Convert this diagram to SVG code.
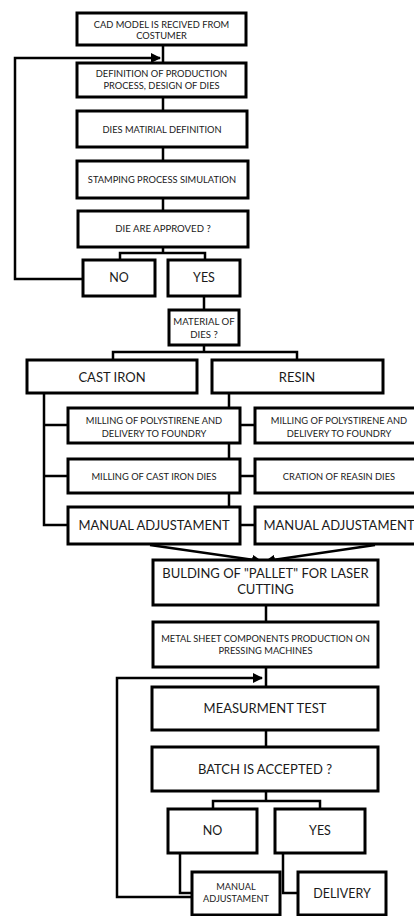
<svg xmlns="http://www.w3.org/2000/svg" width="414" height="916" viewBox="0 0 414 916">
<defs>
<style>
.b{fill:#fff;stroke:#000;stroke-width:3}
.c{fill:none;stroke:#000;stroke-width:2.5}
text{font-family:Lato,"Open Sans",sans-serif;fill:#1a1a1a;text-anchor:middle}
.s{font-size:9.3px}
.t{font-size:9.6px}
.m{font-size:12.5px}
.l{font-size:13px}
</style>
<marker id="ah" viewBox="0 0 10 10" refX="9" refY="5" markerWidth="4" markerHeight="4" orient="auto"><path d="M0,0 L10,5 L0,10 z" fill="#000"/></marker>
</defs>
<rect width="414" height="916" fill="#fff"/>
<g id="connectors">
<path class="c" d="M163,45 V63 M163,97 V111 M163,147 V161 M163,198 V211 M163,247 V253 M120,260 V253 H205 V260"/>
<path class="c" d="M83,279 H15 V58 H160" marker-end="url(#ah)"/>
<path class="c" d="M204,296 V310 M204,345 V352 M113,360 V352 H297 V360"/>
<path class="c" d="M44,393 V525 H68 M44,425 H68 M44,476 H68 M229,393 V408 M229,443 V459 M229,493 V507 M240,425 H255 M240,476 H255 M240,525 H255"/>
<path class="c" d="M150,545 L261,561" marker-end="url(#ah)"/>
<path class="c" d="M375,545 L266,561" marker-end="url(#ah)"/>
<path class="c" d="M266,605 V622 M266,667 V687 M266,730 V747 M266,791 V801 M213,809 V801 H320 V809"/>
<path class="c" d="M192,897 H117 V678 H262" marker-end="url(#ah)"/>
<path class="c" d="M180,853 V893 H192 M283,853 V893 H298"/>
</g>
<g id="n1"><rect class="b" x="77" y="13" width="169" height="32"/><text class="s" x="161.5" y="27.5">CAD MODEL IS RECIVED FROM</text><text class="s" x="161.5" y="39">COSTUMER</text></g>
<g id="n2"><rect class="b" x="77" y="63" width="169" height="34"/><text class="s" x="161.5" y="77">DEFINITION OF PRODUCTION</text><text class="s" x="161.5" y="89">PROCESS, DESIGN OF DIES</text></g>
<g id="n3"><rect class="b" x="77" y="111" width="170" height="36"/><text class="s" x="162" y="132.5">DIES MATIRIAL DEFINITION</text></g>
<g id="n4"><rect class="b" x="77" y="161" width="171" height="37"/><text class="s" x="162" y="183">STAMPING PROCESS SIMULATION</text></g>
<g id="n5"><rect class="b" x="78" y="211" width="170" height="36"/><text class="t" x="163" y="232">DIE ARE APPROVED ?</text></g>
<g id="n6"><rect class="b" x="83" y="260" width="72" height="36"/><text class="m" x="119" y="282">NO</text></g>
<g id="n7"><rect class="b" x="168" y="260" width="72" height="36"/><text class="m" x="204" y="282">YES</text></g>
<g id="n8"><rect class="b" x="169" y="310" width="70" height="35"/><text class="t" x="204" y="325">MATERIAL OF</text><text class="t" x="204" y="337.5">DIES ?</text></g>
<g id="n9"><rect class="b" x="27" y="360" width="170" height="33"/><text class="l" x="112" y="382">CAST IRON</text></g>
<g id="n10"><rect class="b" x="212" y="360" width="171" height="33"/><text class="l" x="297" y="382">RESIN</text></g>
<g id="n11"><rect class="b" x="68" y="408" width="172" height="35"/><text class="s" x="154" y="424">MILLING OF POLYSTIRENE AND</text><text class="s" x="154" y="436.5">DELIVERY TO FOUNDRY</text></g>
<g id="n12"><rect class="b" x="255" y="408" width="170" height="35"/><text class="s" x="339" y="424">MILLING OF POLYSTIRENE AND</text><text class="s" x="339" y="436.5">DELIVERY TO FOUNDRY</text></g>
<g id="n13"><rect class="b" x="68" y="459" width="172" height="34"/><text class="s" x="154" y="479.5">MILLING OF CAST IRON DIES</text></g>
<g id="n14"><rect class="b" x="255" y="459" width="170" height="34"/><text class="s" x="339" y="479.5">CRATION OF REASIN DIES</text></g>
<g id="n15"><rect class="b" x="68" y="507" width="172" height="37"/><text class="l" x="154" y="530">MANUAL ADJUSTAMENT</text></g>
<g id="n16"><rect class="b" x="255" y="507" width="170" height="37"/><text class="l" x="339" y="530">MANUAL ADJUSTAMENT</text></g>
<g id="n17"><rect class="b" x="153" y="560" width="225" height="45"/><text class="l" x="265.5" y="578">BULDING OF "PALLET" FOR LASER</text><text class="l" x="265.5" y="594">CUTTING</text></g>
<g id="n18"><rect class="b" x="153" y="622" width="225" height="45"/><text class="s" x="265.5" y="642">METAL SHEET COMPONENTS PRODUCTION ON</text><text class="s" x="265.5" y="654">PRESSING MACHINES</text></g>
<g id="n19"><rect class="b" x="152" y="687" width="226" height="43"/><text class="l" x="265" y="713">MEASURMENT TEST</text></g>
<g id="n20"><rect class="b" x="152" y="747" width="226" height="44"/><text class="l" x="265" y="773.5">BATCH IS ACCEPTED ?</text></g>
<g id="n21"><rect class="b" x="168" y="809" width="89" height="44"/><text class="m" x="212.5" y="835">NO</text></g>
<g id="n22"><rect class="b" x="275" y="809" width="90" height="44"/><text class="m" x="320" y="835">YES</text></g>
<g id="n23"><rect class="b" x="192" y="872" width="88" height="43"/><text x="236" y="890" style="font-size:9.2px">MANUAL</text><text x="236" y="902" style="font-size:9.2px">ADJUSTAMENT</text></g>
<g id="n24"><rect class="b" x="298" y="872" width="88" height="43"/><text class="m" x="342" y="898">DELIVERY</text></g>
</svg>
